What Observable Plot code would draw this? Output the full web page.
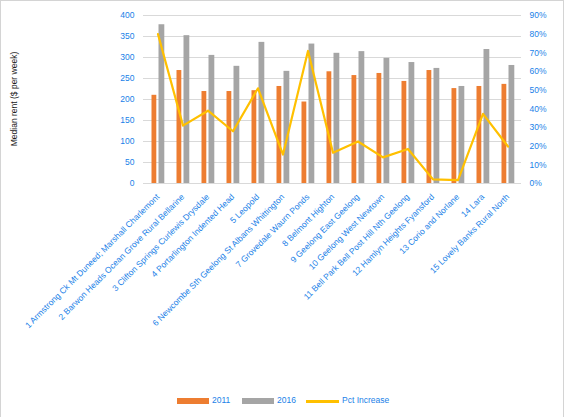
<!DOCTYPE html>
<html>
<head>
<meta charset="utf-8">
<script src="https://cdn.jsdelivr.net/npm/d3@7"></script>
<script src="https://cdn.jsdelivr.net/npm/@observablehq/plot@0.6"></script>
<style>
  html, body { margin: 0; padding: 0; background: #fff; }
  #frame { position: relative; width: 562px; height: 416px; border: 1px solid #d4d4d4; border-bottom: none; overflow: hidden; font-family: "Liberation Sans", Arial, sans-serif; }
  #chart { position: absolute; left: 0; top: 0; }
  #ytitle { position: absolute; left: 13px; top: 98px; transform: translate(-50%, -50%) rotate(-90deg); font-size: 8.5px; color: #222; white-space: nowrap; }
  #legend { position: absolute; top: 394px; left: 0; width: 562px; font-size: 8.5px; color: #1a7fe8; }
  .sw { position: absolute; }
  .lt { position: absolute; top: 0; line-height: 11px; }
</style>
</head>
<body>
<div id="frame">
  <div id="chart"></div>
  <div id="ytitle">Median rent ($ per week)</div>
  <div id="legend"></div>
</div>
<script>
const categories = [
  "1 Armstrong Ck Mt Duneed; Marshall Charlemont",
  "2 Barwon Heads Ocean Grove Rural Bellarine",
  "3 Clifton Springs Curlewis Drysdale",
  "4 Portarlington Indented Head",
  "5 Leopold",
  "6 Newcombe Sth Geelong St Albans Whittington",
  "7 Grovedale Waurn Ponds",
  "8 Belmont Highton",
  "9 Geelong East Geelong",
  "10 Geelong West Newtown",
  "11 Bell Park Bell Post Hill Nth Geelong",
  "12 Hamlyn Heights Fyansford",
  "13 Corio and Norlane",
  "14 Lara",
  "15 Lovely Banks Rural North"
];
const rent2011 = [210, 269, 219, 219, 221, 231, 194, 266, 257, 262, 243, 269, 226, 231, 236];
const rent2016 = [378, 352, 305, 279, 336, 267, 332, 310, 314, 298, 288, 274, 231, 319, 281];
const pctIncrease = [0.80, 0.31, 0.39, 0.28, 0.51, 0.155, 0.71, 0.165, 0.225, 0.14, 0.185, 0.022, 0.018, 0.373, 0.198];
const rentTicks = [0, 50, 100, 150, 200, 250, 300, 350, 400];
const pctTicks = [0, 0.1, 0.2, 0.3, 0.4, 0.5, 0.6, 0.7, 0.8, 0.9];
const seriesNames = ["2011", "2016", "Pct Increase"];
const seriesColors = ["#ed7d31", "#a5a5a5", "#ffc000"];

const data = categories.map((c, i) => ({cat: c, r11: rent2011[i], r16: rent2016[i], pct: pctIncrease[i]}));
const pctToRent = p => p * 400 / 0.9;
const blue = "#1a7fe8";

const chart = Plot.plot({
  width: 562,
  height: 390,
  marginTop: 14,
  marginBottom: 390 - 182,
  marginLeft: 142,
  marginRight: 42,
  style: {fontFamily: "Liberation Sans, Arial, sans-serif", fontSize: "8.5px", background: "#fff"},
  x: {domain: categories, padding: 0},
  y: {domain: [0, 400]},
  marks: [
    Plot.gridY(rentTicks, {stroke: "#d9d9d9", strokeOpacity: 1, strokeWidth: 1}),
    Plot.barY(data, {x: "cat", y: "r11", fill: seriesColors[0], insetLeft: 6.5, insetRight: 13.7}),
    Plot.barY(data, {x: "cat", y: "r16", fill: seriesColors[1], insetLeft: 13.5, insetRight: 5.7}),
    Plot.line(data, {x: "cat", y: d => pctToRent(d.pct), stroke: seriesColors[2], strokeWidth: 2.2}),
    Plot.axisY({anchor: "left", ticks: rentTicks, tickSize: 0, tickPadding: 9, fill: blue, label: null}),
    Plot.axisY({anchor: "right", ticks: pctTicks.map(pctToRent), tickFormat: d => Math.round(d * 0.9 / 4) + "%", tickSize: 0, tickPadding: 8, fill: blue, label: null, textAnchor: "start"}),
    Plot.axisX({tickRotate: -45, tickSize: 0, tickPadding: 12, fill: blue, label: null})
  ]
});
document.getElementById("chart").appendChild(chart);

const legend = document.getElementById("legend");
const items = [
  {x: 176, w: 32, type: "bar"},
  {x: 241, w: 32, type: "bar"},
  {x: 305, w: 33, type: "line"}
];
items.forEach((it, i) => {
  const sw = document.createElement("div");
  sw.className = "sw";
  sw.style.left = it.x + "px";
  sw.style.width = it.w + "px";
  if (it.type === "bar") { sw.style.top = "3px"; sw.style.height = "6px"; }
  else { sw.style.top = "5px"; sw.style.height = "2.5px"; }
  sw.style.background = seriesColors[i];
  legend.appendChild(sw);
  const t = document.createElement("div");
  t.className = "lt";
  t.style.left = (it.x + it.w + 3) + "px";
  t.textContent = seriesNames[i];
  legend.appendChild(t);
});
</script>
</body>
</html>
